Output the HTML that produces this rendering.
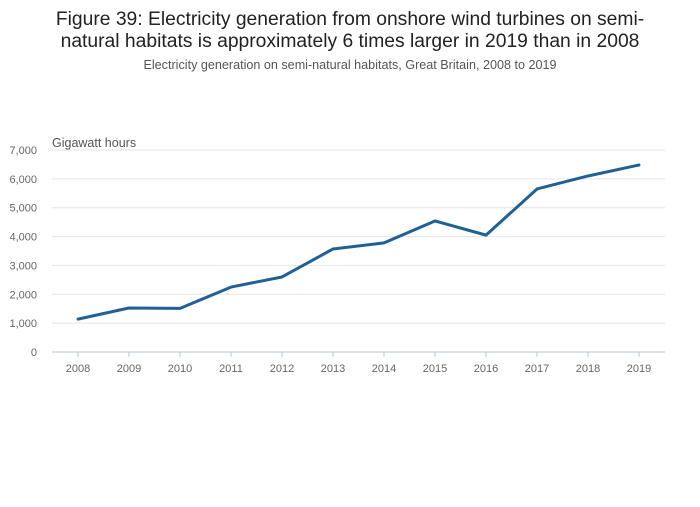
<!DOCTYPE html>
<html><head><meta charset="utf-8"><style>
body{margin:0;background:#fff;font-family:"Liberation Sans",sans-serif;}
</style></head><body>
<svg width="700" height="502" xmlns="http://www.w3.org/2000/svg">
<rect width="700" height="502" fill="#fff"/>
<text x="350" y="25" text-anchor="middle" font-size="19.3" fill="#222">Figure 39: Electricity generation from onshore wind turbines on semi-</text>
<text x="350" y="47" text-anchor="middle" font-size="19.3" fill="#222">natural habitats is approximately 6 times larger in 2019 than in 2008</text>
<text x="350" y="69" text-anchor="middle" font-size="12.6" fill="#555">Electricity generation on semi-natural habitats, Great Britain, 2008 to 2019</text>
<text x="52" y="147" font-size="12.5" fill="#555">Gigawatt hours</text>
<g id="grid"></g><g id="yt"></g><g id="xt"></g><g id="ln"></g>
<line x1="52" y1="352" x2="665" y2="352" stroke="#b8c4d6" stroke-width="1"/>
</svg>
<script>
const years=["2008","2009","2010","2011","2012","2013","2014","2015","2016","2017","2018","2019"];
const values=[1140,1525,1510,2250,2600,3570,3780,4540,4050,5650,6100,6480];
const yTicks=[0,1000,2000,3000,4000,5000,6000,7000];
const NS="http://www.w3.org/2000/svg";
const y=v=>352-v*(202/7000);
const x=i=>78+i*51;
function mk(t,a,p){const e=document.createElementNS(NS,t);for(const k in a)e.setAttribute(k,a[k]);p.appendChild(e);return e;}
const g=document.getElementById('grid'),yt=document.getElementById('yt'),xt=document.getElementById('xt'),ln=document.getElementById('ln');
yTicks.forEach(v=>{
 if(v>0){const l=mk('line',{x1:52,x2:665,y1:y(v),y2:y(v),stroke:'#e4e4e4','stroke-width':1},g);
 
 }
 const t=mk('text',{x:37,y:y(v)+4,'text-anchor':'end','font-size':11,fill:'#666'},yt);
 t.textContent=v.toLocaleString('en-US');
 
 
});
years.forEach((yr,i)=>{
 const tk=mk('line',{x1:x(i),x2:x(i),y1:352,y2:357,stroke:'#b8c4d6'},xt);
 
 
 const t=mk('text',{x:x(i),y:372,'text-anchor':'middle','font-size':11,fill:'#666'},xt);
 t.textContent=yr;
 
 
});
const p=mk('polyline',{points:values.map((v,i)=>x(i)+','+y(v)).join(' '),fill:'none',stroke:'#206095','stroke-width':3,'stroke-linejoin':'round','stroke-linecap':'round'},ln);


</script>
</body></html>
